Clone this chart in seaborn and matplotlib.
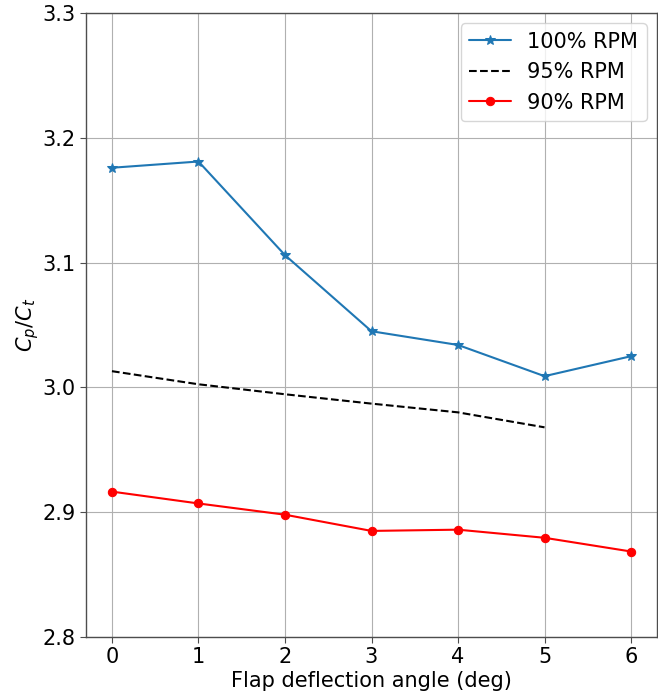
import matplotlib
matplotlib.use("Agg")
import matplotlib.pyplot as plt
import seaborn as sns
import pandas as pd

angles = [0, 1, 2, 3, 4, 5, 6]
rpm100 = [3.176, 3.181, 3.106, 3.045, 3.034, 3.009, 3.025]
angles95 = [0, 1, 2, 3, 4, 5]
rpm95 = [3.013, 3.0025, 2.9945, 2.987, 2.980, 2.968]
rpm90 = [2.9165, 2.907, 2.898, 2.885, 2.886, 2.8795, 2.8685]
yticks = [2.8, 2.9, 3.0, 3.1, 3.2, 3.3]

sns.set_style("ticks")
plt.rcParams['font.family'] = ['DejaVu Sans']
plt.rcParams['text.color'] = 'black'
plt.rcParams['axes.labelcolor'] = 'black'
plt.rcParams['xtick.labelcolor'] = 'black'
plt.rcParams['ytick.labelcolor'] = 'black'

fig = plt.figure(figsize=(6.58, 6.98), dpi=100)
ax = fig.add_axes([86/658, 1-637/698, (657-86)/658, (637-13)/698])

d100 = pd.DataFrame({"x": angles, "y": rpm100})
d95 = pd.DataFrame({"x": angles95, "y": rpm95})
d90 = pd.DataFrame({"x": angles, "y": rpm90})

sns.lineplot(data=d100, x="x", y="y", ax=ax, color="#1f77b4", marker="*",
             markersize=7, markeredgecolor="#1f77b4", linewidth=1.5, label="100% RPM")
sns.lineplot(data=d95, x="x", y="y", ax=ax, color="black", linestyle="--",
             linewidth=1.5, label="95% RPM")
sns.lineplot(data=d90, x="x", y="y", ax=ax, color="red", marker="o",
             markersize=6, markeredgecolor="red", linewidth=1.5, label="90% RPM")

ax.set_xlim(-0.3, 6.3)
ax.set_ylim(2.8, 3.3)
ax.set_yticks(yticks)
ax.set_yticklabels([f"{v:.1f}" for v in yticks])
ax.set_xticks(angles)
ax.grid(True, color="#b0b0b0", linewidth=0.8)
ax.set_axisbelow(True)
for s in ax.spines.values():
    s.set_color("0.3")
    s.set_linewidth(1.0)
ax.tick_params(axis="both", labelsize=15, color="0.3", length=4)
ax.set_xlabel("Flap deflection angle (deg)", fontsize=15, labelpad=2.8)
ax.set_ylabel("$C_p/C_t$", fontsize=15, labelpad=0.8)
ax.legend(loc="upper right", fontsize=15, frameon=True, fancybox=True,
          framealpha=0.8, edgecolor="0.8")

fig.savefig("out.png", dpi=100)
